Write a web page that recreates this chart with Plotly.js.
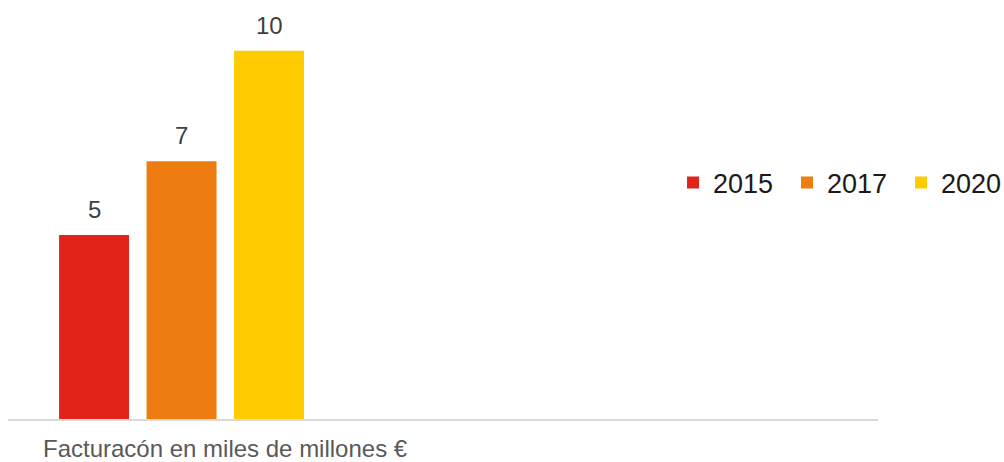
<!DOCTYPE html>
<html>
<head>
<meta charset="utf-8">
<script src="https://cdn.plot.ly/plotly-3.0.1.min.js"></script>
<style>html,body{margin:0;padding:0;background:#fff}#chart{width:1004px;height:462px}</style>
</head>
<body>
<div id="chart"></div>
<script>
const categories = ["Facturacón en miles de millones €"];
const seriesNames = ["2015", "2017", "2020"];
const seriesValues = [[5], [7], [10]];
const seriesColors = ["#E2231A", "#EE7D11", "#FFCC00"];

const FONT = "Liberation Sans, Arial, sans-serif";
const bargap = 0.2;
const nSeries = seriesNames.length;

const traces = seriesNames.map((name, i) => ({
  type: "bar",
  name: name,
  x: categories,
  y: seriesValues[i],
  marker: { color: seriesColors[i] },
  hoverinfo: "skip"
}));

const annotations = [];
seriesNames.forEach((name, i) => {
  seriesValues[i].forEach((v, j) => {
    const slot = (1 - bargap) / nSeries;
    annotations.push({
      x: j - (1 - bargap) / 2 + slot * (i + 0.5),
      y: v, xref: "x", yref: "y",
      text: String(v), showarrow: false,
      yanchor: "bottom", yshift: 10,
      font: { family: FONT, size: 24, color: "#404040" }
    });
  });
});
annotations.push({
  xref: "paper", yref: "paper", x: 0.039, y: -0.072,
  xanchor: "left", yanchor: "middle", borderpad: 0,
  text: categories[0], showarrow: false,
  font: { family: FONT, size: 24, color: "#595959" }
});

const layout = {
  width: 1004, height: 462,
  margin: { l: 8, r: 126, t: 10, b: 43, autoexpand: false },
  paper_bgcolor: "#fff", plot_bgcolor: "#fff",
  barmode: "group", bargap: bargap, bargroupgap: 0.2,
  showlegend: true,
  legend: {
    orientation: "h", x: 0.7644, y: 0.577, xanchor: "left", yanchor: "middle",
    font: { family: FONT, size: 27, color: "#1a1a1a" },
    entrywidth: 69, itemwidth: 30, traceorder: "normal"
  },
  xaxis: {
    type: "category", range: [-0.529, 2.123],
    showline: true, linecolor: "#d9d9d9", linewidth: 1.5,
    showticklabels: false, ticks: "", showgrid: false, zeroline: false, fixedrange: true
  },
  yaxis: {
    range: [0, 11.11], visible: false, showgrid: false, zeroline: false, fixedrange: true
  },
  annotations: annotations,
  font: { family: FONT }
};

Plotly.newPlot("chart", traces, layout, { displayModeBar: false, staticPlot: true });
</script>
</body>
</html>
